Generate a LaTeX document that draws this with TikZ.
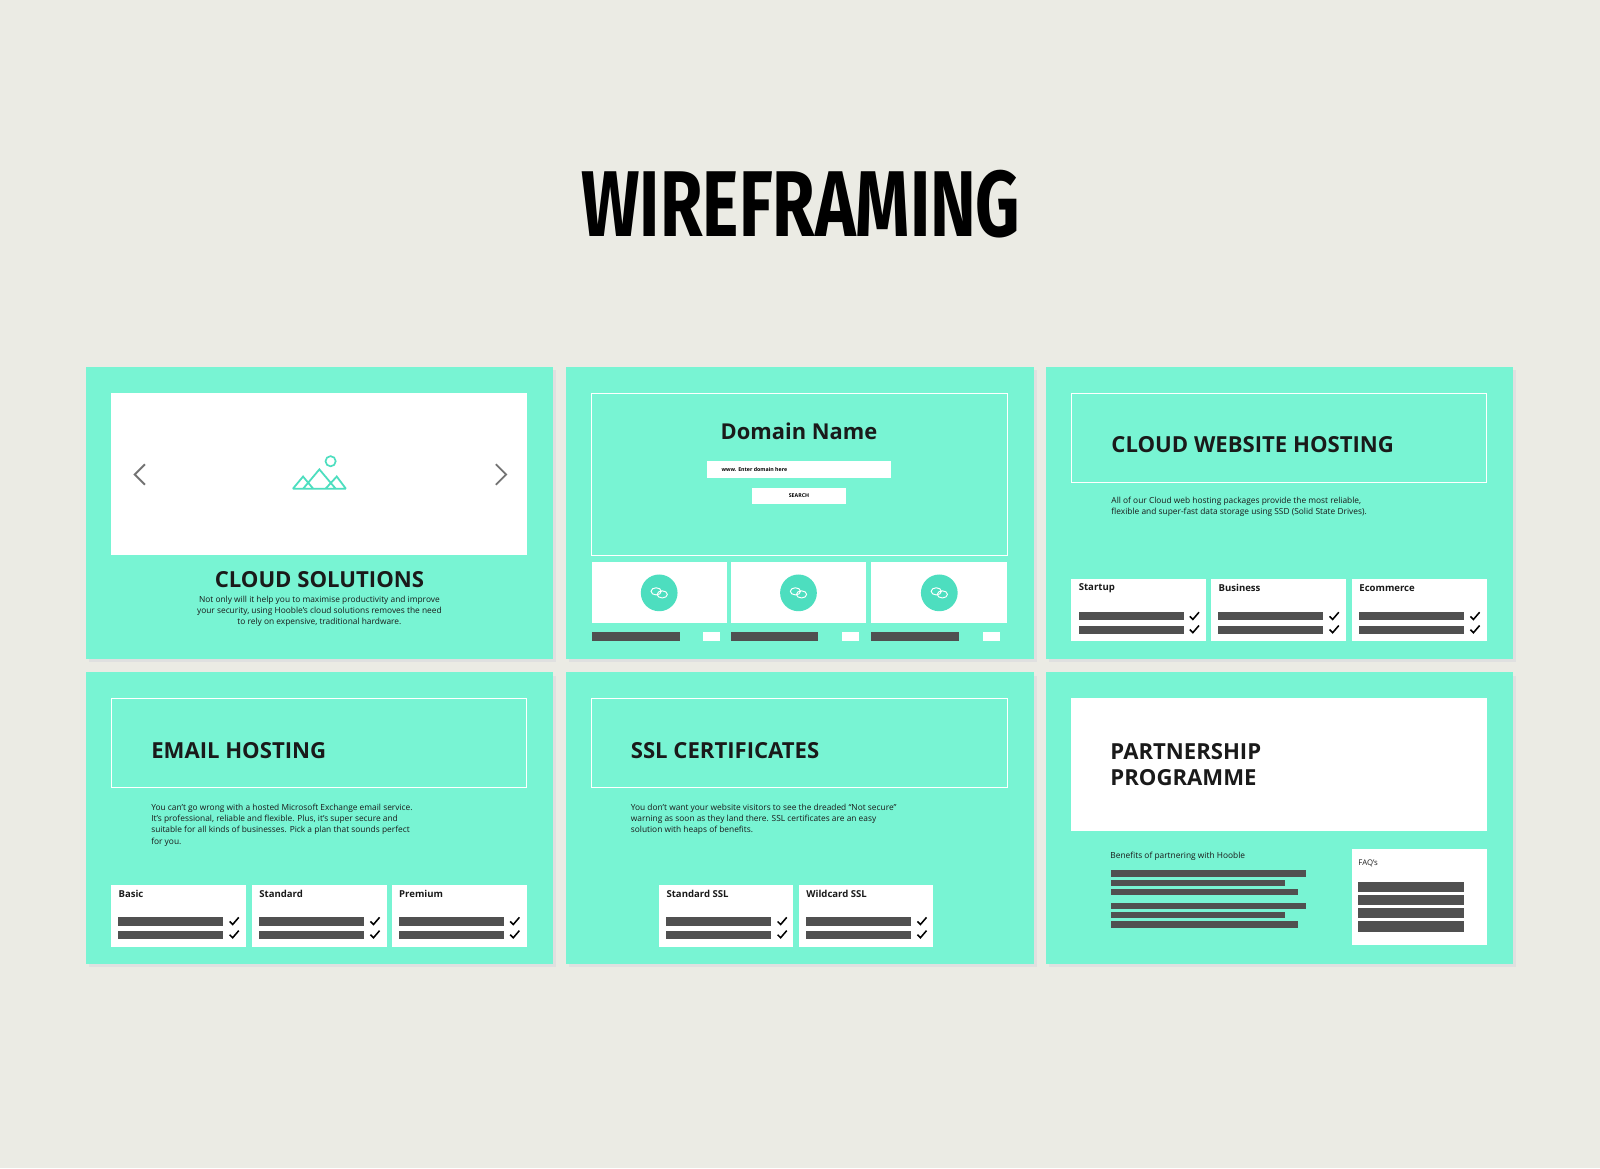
\documentclass[tikz,border=0pt]{standalone}
\usepackage{fontspec}
\setmainfont{Open Sans}
\newfontfamily\titlefont{Fira Sans}
\definecolor{bgc}{HTML}{EBEBE4}
\definecolor{panel}{HTML}{78F4D3}
\definecolor{teal}{HTML}{4DDEBF}
\definecolor{bar}{HTML}{505050}
\definecolor{ink}{HTML}{1A1A1A}
\begin{document}
\begin{tikzpicture}[x=0.03cm,y=-0.03cm,
  h1/.style={font=\fontsize{18.5pt}{22pt}\bfseries,text=ink,inner sep=0pt},
  h2/.style={font=\fontsize{18.5pt}{22pt}\bfseries,text=ink,inner sep=0pt,anchor=west},
  body/.style={font=\fontsize{7pt}{9.3pt}\selectfont,text=ink,inner sep=0pt,align=left,anchor=north west},
  cardtitle/.style={font=\fontsize{8pt}{9pt}\bfseries,text=ink,inner sep=0pt,anchor=west},
  outline/.style={draw=white,line width=0.6pt},
  tick/.style={draw=black,line width=1.3pt},
  chev/.style={draw=black!55,line width=1.6pt}]
\useasboundingbox (0,0) rectangle (1568,1145);
\fill[bgc] (0,0) rectangle (1568,1145);
\node[inner sep=0pt] (title) at (785,200) {\resizebox{12.9cm}{1.95cm}{\titlefont\bfseries WIREFRAMING}};
% panels with shadow
\foreach \x in {84,555,1025}{\foreach \y in {360,659}{
  \fill[black!12] (\x+3,\y+3) rectangle (\x+461,\y+289);
  \fill[panel] (\x,\y) rectangle (\x+458,\y+286);}}
% ---- panel 1
\fill[white] (109,385) rectangle (516,544);
\draw[chev] (142,455)--(132,465)--(142,475);
\draw[chev] (486,455)--(496,465)--(486,475);
\draw[teal,line width=1.5pt,line join=miter] (287,479)--(297,467)--(307,479) (297,479)--(313,460)--(329,479) (319,479)--(330,467)--(339,479) (287,479)--(339,479);
\draw[teal,line width=1.4pt] (324,452) circle (5);
\node[h1] (cs) at (313,568) {CLOUD SOLUTIONS};
\node[font=\fontsize{7pt}{9.3pt}\selectfont,text=ink,align=center,inner sep=0pt,anchor=north] (csb) at (313,584) {Not only will it help you to maximise productivity and improve\\your security, using Hooble’s cloud solutions removes the need\\to rely on expensive, traditional hardware.};
% ---- panel 2
\draw[outline] (580,385) rectangle (987,544);
\node[font=\fontsize{18.3pt}{21pt}\bfseries,text=ink,inner sep=0pt] (dn) at (783,423) {Domain Name};
\fill[white] (693,452) rectangle (873,468);
\node[font=\fontsize{4.4pt}{5pt}\bfseries,anchor=west,inner sep=0pt] (www) at (707,460) {www. Enter domain here};
\fill[white] (737,478) rectangle (829,494);
\node[font=\fontsize{4.4pt}{5pt}\bfseries,inner sep=0pt] (srch) at (783,486) {SEARCH};
\foreach \a/\b in {580/712,716/849,854/987}{
  \fill[white] (\a,551) rectangle (\b,611);
  \fill[teal] ({(\a+\b)/2},581) circle (18);
  \draw[white,line width=0.8pt] ({(\a+\b)/2-3},579.5) ellipse (5 and 3.5);
  \draw[white,line width=0.8pt] ({(\a+\b)/2+3},582.5) ellipse (5 and 3.5);
  \fill[bar] (\a,619) rectangle (\a+86,628);
  \fill[white] (\a+109,619) rectangle (\a+126,628);}
% ---- panel 3
\draw[outline] (1050,385) rectangle (1457,473);
\node[h2] (cwh) at (1089,436) {CLOUD WEBSITE HOSTING};
\node[body] (cwhb) at (1089,487) {All of our Cloud web hosting packages provide the most reliable,\\flexible and super-fast data storage using SSD (Solid State Drives).};
\foreach \a/\t in {1050/Startup,1187/Business,1325/Ecommerce}{
  \fill[white] (\a,567) rectangle (\a+132,628);
  \node[cardtitle] at (\a+7,576) {\t};
  \fill[bar] (\a+7,600) rectangle (\a+110,608);
  \fill[bar] (\a+7,613) rectangle (\a+110,621);
  \draw[tick] (\a+116,604)--(\a+119,607)--(\a+125,600);
  \draw[tick] (\a+116,617)--(\a+119,620)--(\a+125,613);}
% ---- panel 4
\draw[outline] (109,684) rectangle (516,772);
\node[h2] (eh) at (148,736) {EMAIL HOSTING};
\node[body] (ehb) at (148,788) {You can’t go wrong with a hosted Microsoft Exchange email service.\\It’s professional, reliable and flexible. Plus, it’s super secure and\\suitable for all kinds of businesses. Pick a plan that sounds perfect\\for you.};
\foreach \a/\t in {109/Basic,247/Standard,384/Premium}{
  \fill[white] (\a,867) rectangle (\a+132,928);
  \node[cardtitle] at (\a+7,876) {\t};
  \fill[bar] (\a+7,899) rectangle (\a+110,907);
  \fill[bar] (\a+7,912) rectangle (\a+110,920);
  \draw[tick] (\a+116,903)--(\a+119,906)--(\a+125,899);
  \draw[tick] (\a+116,916)--(\a+119,919)--(\a+125,912);}
% ---- panel 5
\draw[outline] (580,684) rectangle (987,772);
\node[h2] (ssl) at (618,736) {SSL CERTIFICATES};
\node[body] (sslb) at (618,788) {You don’t want your website visitors to see the dreaded “Not secure”\\warning as soon as they land there. SSL certificates are an easy\\solution with heaps of benefits.};
\foreach \a/\t in {646/Standard SSL,783/Wildcard SSL}{
  \fill[white] (\a,867) rectangle (\a+131,928);
  \node[cardtitle] at (\a+7,876) {\t};
  \fill[bar] (\a+7,899) rectangle (\a+110,907);
  \fill[bar] (\a+7,912) rectangle (\a+110,920);
  \draw[tick] (\a+116,903)--(\a+119,906)--(\a+125,899);
  \draw[tick] (\a+116,916)--(\a+119,919)--(\a+125,912);}
% ---- panel 6
\fill[white] (1050,684) rectangle (1457,814);
\node[font=\fontsize{18.5pt}{22pt}\bfseries,text=ink,inner sep=0pt,align=left,anchor=west] (pp) at (1088,749) {PARTNERSHIP\\PROGRAMME};
\node[font=\fontsize{7pt}{8pt}\selectfont,text=ink,inner sep=0pt,anchor=west] (ben) at (1088,839) {Benefits of partnering with Hooble};
\foreach \y/\w in {853/191,862/170,871/183,885/191,894/170,903/183}
  \fill[bar] (1089,\y) rectangle (1089+\w,\y+6);
\fill[white] (1325,832) rectangle (1457,926);
\node[font=\fontsize{6.5pt}{8pt}\selectfont,text=ink,inner sep=0pt,anchor=west] (faq) at (1331,846) {FAQ’s};
\foreach \y in {864,877,890,903}
  \fill[bar] (1331,\y) rectangle (1435,\y+10);
\end{tikzpicture}
\end{document}
